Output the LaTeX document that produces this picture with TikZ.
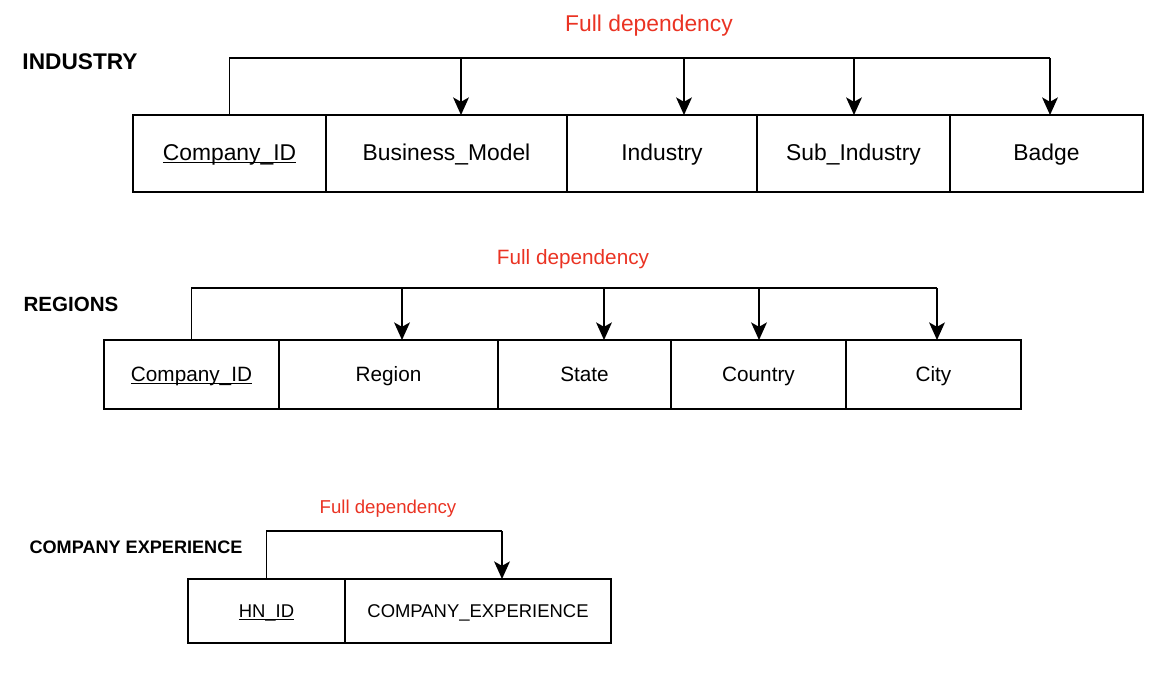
\documentclass[tikz,border=0pt]{standalone}
\usepackage{fontspec}
\setmainfont{Liberation Sans}
\usetikzlibrary{positioning,arrows.meta}
\definecolor{deporange}{RGB}{234,51,35}
\newcommand{\keyattr}[1]{\setbox0\hbox{#1}\rlap{#1}\rule[-0.13em]{\wd0}{0.055em}}
\begin{document}
\begin{tikzpicture}[line width=0.9pt,
    cell/.style={draw, rectangle, outer sep=0pt, inner sep=0pt, text height=0.98em, text depth=0.2em},
    dep/.style={-{Stealth[length=10pt,width=9pt,inset=2.5pt]}},
    deplabel/.style={text=deporange, inner sep=0pt},
    tabletitle/.style={font=\bfseries, inner sep=0pt}]
  \useasboundingbox (0,0) rectangle (23.36,-13.48);
  % INDUSTRY
  \node[tabletitle, font=\fontsize{12.9}{15}\selectfont\bfseries] (tInd) at (1.60,-1.24) {INDUSTRY};
  \node[deplabel, font=\fontsize{13}{15}\selectfont] (lInd) at (12.98,-0.52) {Full dependency};
  \begin{scope}[every node/.append style={font=\fontsize{13}{15}\selectfont, minimum height=1.54cm}]
    \node[cell, minimum width=3.86cm] (ind1) at (4.59,-3.07) {\keyattr{Company\_ID}};
    \node[cell, minimum width=4.82cm, right=0pt of ind1] (ind2) {Business\_Model};
    \node[cell, minimum width=3.80cm, right=0pt of ind2] (ind3) {Industry};
    \node[cell, minimum width=3.86cm, right=0pt of ind3] (ind4) {Sub\_Industry};
    \node[cell, minimum width=3.86cm, right=0pt of ind4] (ind5) {Badge};
  \end{scope}
  \coordinate (ib2) at (9.22,-1.16);
  \coordinate (ib3) at (13.68,-1.16);
  \coordinate (ib4) at (17.08,-1.16);
  \coordinate (ib5) at (21.00,-1.16);
  \draw (ind1.north) |- (ib5);
  \foreach \i in {2,...,5}
    \draw[dep] (ib\i) -- (ib\i |- ind\i.north);
  % REGIONS
  \node[tabletitle, font=\fontsize{11.7}{14}\selectfont\bfseries] (tReg) at (1.42,-6.08) {REGIONS};
  \node[deplabel, font=\fontsize{11.8}{14}\selectfont] (lReg) at (11.46,-5.19) {Full dependency};
  \begin{scope}[every node/.append style={font=\fontsize{11.8}{14}\selectfont, minimum height=1.38cm}]
    \node[cell, minimum width=3.50cm] (reg1) at (3.83,-7.49) {\keyattr{Company\_ID}};
    \node[cell, minimum width=4.38cm, right=0pt of reg1] (reg2) {Region};
    \node[cell, minimum width=3.46cm, right=0pt of reg2] (reg3) {State};
    \node[cell, minimum width=3.50cm, right=0pt of reg3] (reg4) {Country};
    \node[cell, minimum width=3.50cm, right=0pt of reg4] (reg5) {City};
  \end{scope}
  \coordinate (rb2) at (8.04,-5.76);
  \coordinate (rb3) at (12.08,-5.76);
  \coordinate (rb4) at (15.18,-5.76);
  \coordinate (rb5) at (18.74,-5.76);
  \draw (reg1.north) |- (rb5);
  \foreach \i in {2,...,5}
    \draw[dep] (rb\i) -- (rb\i |- reg\i.north);
  % COMPANY EXPERIENCE
  \node[tabletitle, font=\fontsize{10.3}{12}\selectfont\bfseries] (tExp) at (2.72,-10.94) {COMPANY EXPERIENCE};
  \node[deplabel, font=\fontsize{10.6}{12}\selectfont] (lExp) at (7.76,-10.17) {Full dependency};
  \begin{scope}[every node/.append style={font=\fontsize{10.5}{12}\selectfont, minimum height=1.28cm}]
    \node[cell, minimum width=3.14cm] (exp1) at (5.33,-12.22) {\keyattr{HN\_ID}};
    \node[cell, minimum width=5.32cm, right=0pt of exp1] (exp2) {COMPANY\_EXPERIENCE};
  \end{scope}
  \coordinate (eb2) at (10.04,-10.62);
  \draw (exp1.north) |- (eb2);
  \draw[dep] (eb2) -- (eb2 |- exp2.north);
\end{tikzpicture}
\end{document}
